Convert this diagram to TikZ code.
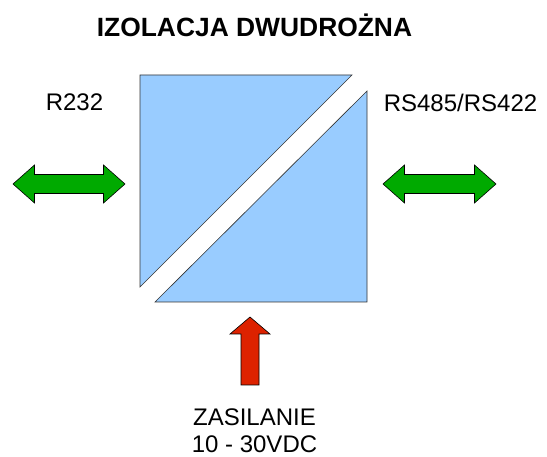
\documentclass[tikz,border=0pt]{standalone}
\usepackage{fontspec}
\setmainfont{Liberation Sans}
\usepackage{tikz}
\usetikzlibrary{calc}

\definecolor{halfblue}{RGB}{153,204,255}
\definecolor{linkgreen}{RGB}{0,170,0}
\definecolor{powerred}{RGB}{221,34,0}

\begin{document}
\begin{tikzpicture}[x=1pt, y=-1pt, line join=miter,
    half/.style={fill=halfblue, draw=black!80, line width=0.6pt},
    linkarrow/.style={fill=linkgreen, draw=black, line width=0.6pt},
    powerarrow/.style={fill=powerred, draw=black, line width=0.6pt},
    lbl/.style={font=\fontsize{24}{28}\selectfont, anchor=base, inner sep=0pt}]
                \useasboundingbox (0,0) rectangle (547,457);

                % Title
                \node[lbl, font=\fontsize{26.4}{30}\selectfont\bfseries] (title) at (254.5,37) {IZOLACJA DWUDROŻNA};

                % Two halves of the isolator
                \draw[half] (140,75) -- (352,75) -- (140,287) -- cycle;
                \draw[half] (367,91) -- (367,302) -- (155,302) -- cycle;

                % Bidirectional links, left and right
                \foreach \a/\b in {13/125, 383/496}{
                    \draw[linkarrow] (\a,184) -- (\a+21.5,165) -- (\a+21.5,174.5) -- (\b-21.5,174.5)
                        -- (\b-21.5,165) -- (\b,184) -- (\b-21.5,203) -- (\b-21.5,193.5)
                        -- (\a+21.5,193.5) -- (\a+21.5,203) -- cycle;
                }

                % Power input
                \draw[powerarrow] (250,317) -- (270,334) -- (259,334) -- (259,385)
                    -- (241,385) -- (241,334) -- (230,334) -- cycle;

                % Labels
                \node[lbl] (left) at (74.5,111) {R232};
                \node[lbl] (right) at (460.5,112) {RS485/RS422};
                \node[lbl] (power) at (254.5,426) {ZASILANIE};
                \node[lbl] (range) at (254.5,453) {10 - 30VDC};

            \end{tikzpicture}
\end{document}
